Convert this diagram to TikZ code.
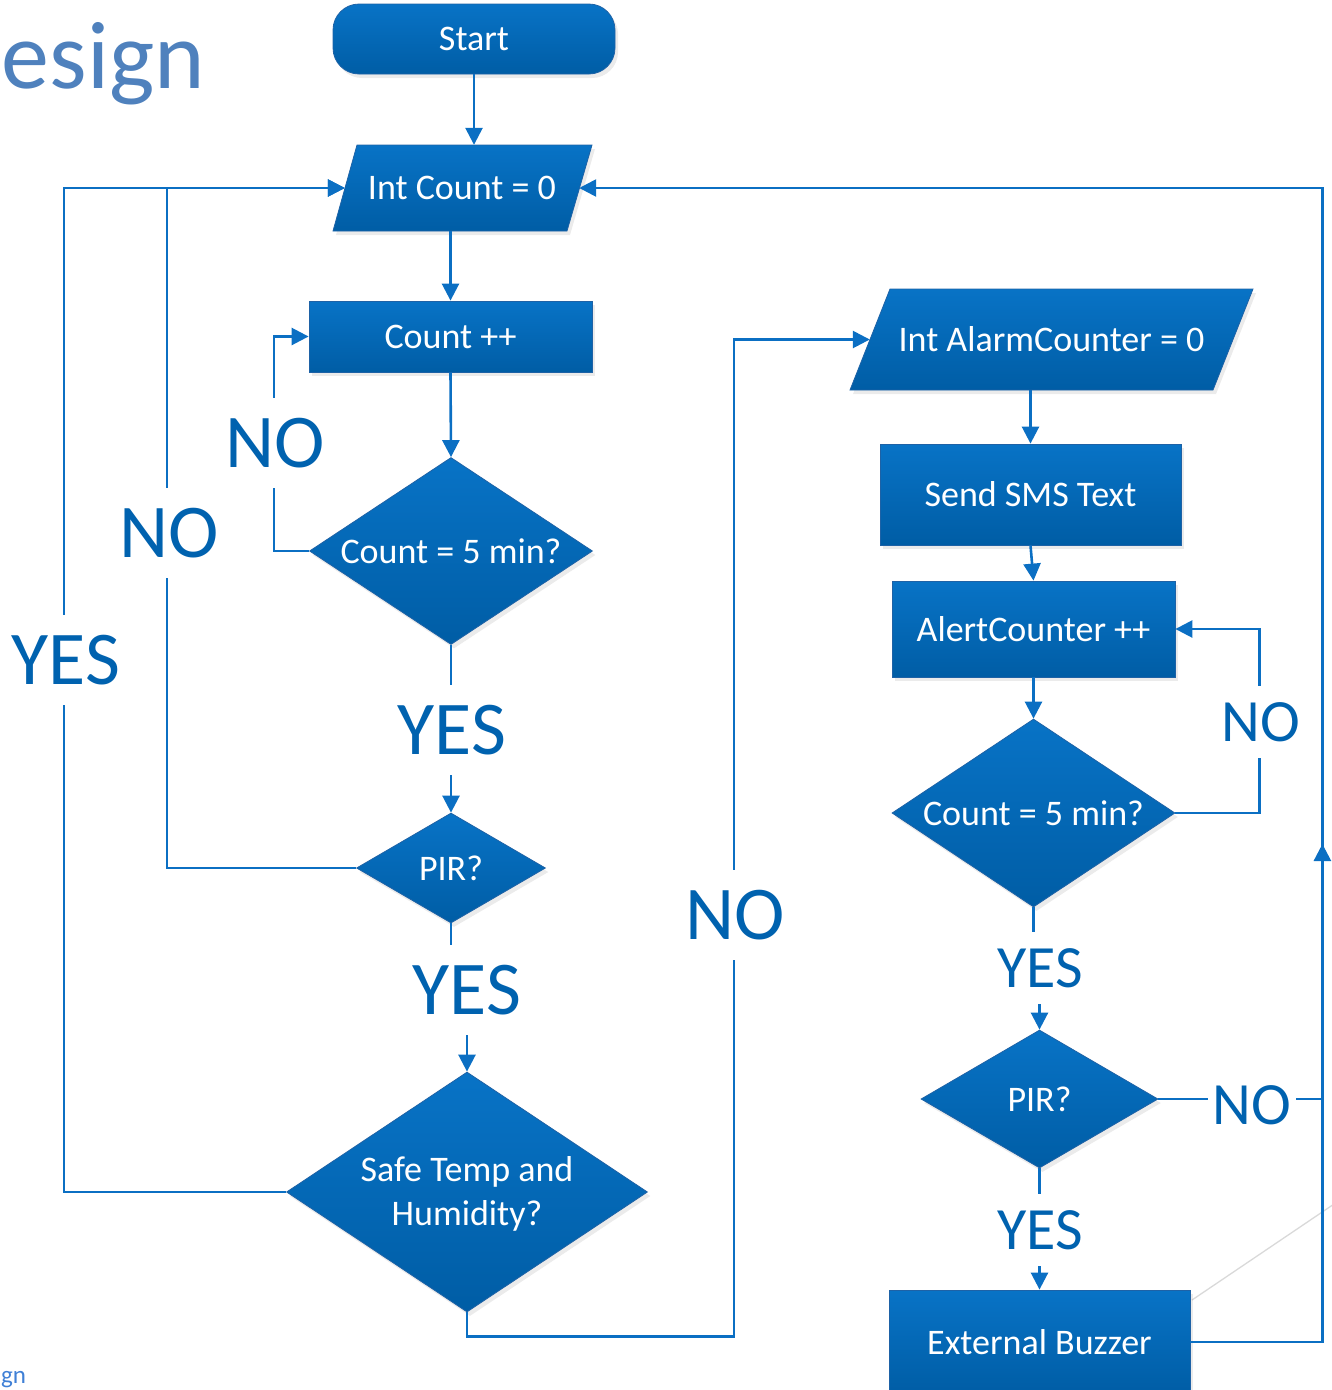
\documentclass[tikz,border=0pt]{standalone}
\usepackage{fontspec}
\setmainfont{Carlito}
\usetikzlibrary{arrows.meta,shapes.geometric,shadows,decorations.markings}

\definecolor{fillTop}{HTML}{0873C6}
\definecolor{fillBot}{HTML}{005DA5}
\definecolor{edgeC}{HTML}{1E62A6}
\definecolor{lineC}{HTML}{0B6FC3}
\definecolor{labC}{HTML}{0062AF}
\definecolor{titleC}{HTML}{4F81BD}
\definecolor{gnC}{HTML}{3F80D6}

\begin{document}
\begin{tikzpicture}[x=1pt,y=-1pt,
  shp/.style={draw=edgeC, line width=0.8pt, top color=fillTop, bottom color=fillBot,
    drop shadow={opacity=0.16, shadow xshift=3pt, shadow yshift=-4pt}},
  boxtxt/.style={text=white, font=\fontsize{36}{44}\selectfont, align=center},
  rbox/.style={shp, rectangle, inner sep=0pt, boxtxt},
  dia/.style={shp, diamond, inner sep=0pt},
  anchorbox/.style={boxtxt, inner sep=0pt},
  conn/.style={draw=lineC, line width=2.6pt, -{Triangle[length=17pt,width=17pt]}},
  plainline/.style={draw=lineC, line width=2.6pt},
  labbig/.style={fill=white, text=labC, font=\fontsize{76}{80}\selectfont, inner xsep=6pt, inner ysep=20pt},
  labsm/.style={fill=white, text=labC, font=\fontsize{60}{64}\selectfont, inner xsep=5pt, inner ysep=16pt},
]
\useasboundingbox (0,0) rectangle (1332,1390);

% titles
\node[anchor=base east, inner sep=0pt, text=titleC, font=\fontsize{96}{100}\selectfont] (title) at (205,88) {esign};
\node[anchor=base west, inner sep=0pt, text=gnC, font=\fontsize{25}{28}\selectfont] (title2) at (1,1383) {gn};

% gray stray line
\coordinate (g1) at (1192,1300);
\coordinate (g2) at (1340,1200);
\draw[gray!30, line width=1.3pt] (g1) -- (g2);

% left column
\node[rbox, rounded corners=26pt, minimum width=282pt, minimum height=70pt] (start) at (474,39) {Start};

\path[shp] (357,145) -- (592,145) -- (567,231) -- (333,231) -- cycle;
\node[anchorbox, minimum width=234pt, minimum height=86pt] (ic) at (462,188) {Int Count = 0};

\node[rbox, minimum width=283pt, minimum height=71pt] (cpp) at (450.5,336.5) {Count ++};

\node[dia, minimum width=283pt, minimum height=187pt] (d1) at (451,551) {};
\node[boxtxt] (d1t) at (d1) {Count = 5 min?};

\node[dia, minimum width=189pt, minimum height=110pt] (p1) at (451,868) {};
\node[boxtxt] (p1t) at (p1) {PIR?};

\node[dia, minimum width=361pt, minimum height=240pt] (sf) at (467,1192) {};
\node[boxtxt] (sft) at (467,1194) {Safe Temp and\\Humidity?};

% right column
\path[shp] (890,289) -- (1253,289) -- (1213,390) -- (850,390) -- cycle;
\node[anchorbox, minimum width=363pt, minimum height=101pt] (ac) at (1051.5,339.5) {Int AlarmCounter = 0};

\node[rbox, minimum width=301pt, minimum height=101pt] (sms) at (1030.5,494.5) {Send SMS Text};

\node[rbox, minimum width=283pt, minimum height=96pt] (alc) at (1033.5,629) {AlertCounter ++};

\node[dia, minimum width=283pt, minimum height=188pt] (d3) at (1033.5,813) {};
\node[boxtxt] (d3t) at (d3) {Count = 5 min?};

\node[dia, minimum width=237pt, minimum height=138pt] (p2) at (1039.5,1099) {};
\node[boxtxt] (p2t) at (p2) {PIR?};

\node[rbox, minimum width=301pt, minimum height=104pt] (bz) at (1039.5,1342) {External Buzzer};

% connectors
\draw[conn] (start.south) -- (start.south |- ic.north);
\draw[conn] (cpp.north |- ic.south) -- (cpp.north);
\draw[conn] (cpp.south) -- (d1.north);
\draw[conn] (d1.west) -- ++(-35,0) |- (cpp.west);
\draw[conn] (d1.south) -- (p1.north);
\draw[conn] (p1.west) -- ++(-189,0) |- (ic.west);
\draw[conn] (p1.south) -- ++(0,67) -| (sf.north);
\draw[conn] (sf.west) -- ++(-222,0) |- (ic.west);
\draw[conn] (sf.south) -- ++(0,24) -- ++(267,0) |- (ac.west);

\draw[conn] (sms.north |- ac.south) -- (sms.north);
\draw[conn] (sms.south) -- (alc.north);
\draw[conn] (alc.south) -- (d3.north);
\draw[conn] (d3.east) -- ++(84,0) |- (alc.east);
\draw[conn] (d3.south) -- ++(0,61) -| (p2.north);
\draw[conn, postaction={decorate}, decoration={markings,
   mark=at position 419pt with {\arrow[color=lineC]{Triangle[length=17pt,width=17pt]}}}]
   (p2.east) -- ++(164,0) |- (ic.east);
\draw[plainline] (bz.east) -- ++(132,0) |- (p2.east);
\draw[conn] (p2.south) -- (bz.north);

% labels
\node[labbig] (l1) at (275,443) {NO};
\node[labbig] (l2) at (452,730) {YES};
\node[labbig] (l3) at (169,533) {NO};
\node[labbig] (l4) at (467,990) {YES};
\node[labbig] (l5) at (66,660) {YES};
\node[labbig] (l6) at (735,915) {NO};
\node[labsm] (l7) at (1261,722) {NO};
\node[labsm] (l8) at (1040,968) {YES};
\node[labsm] (l9) at (1252,1105) {NO};
\node[labsm] (l10) at (1040,1230) {YES};
\end{tikzpicture}
\end{document}
